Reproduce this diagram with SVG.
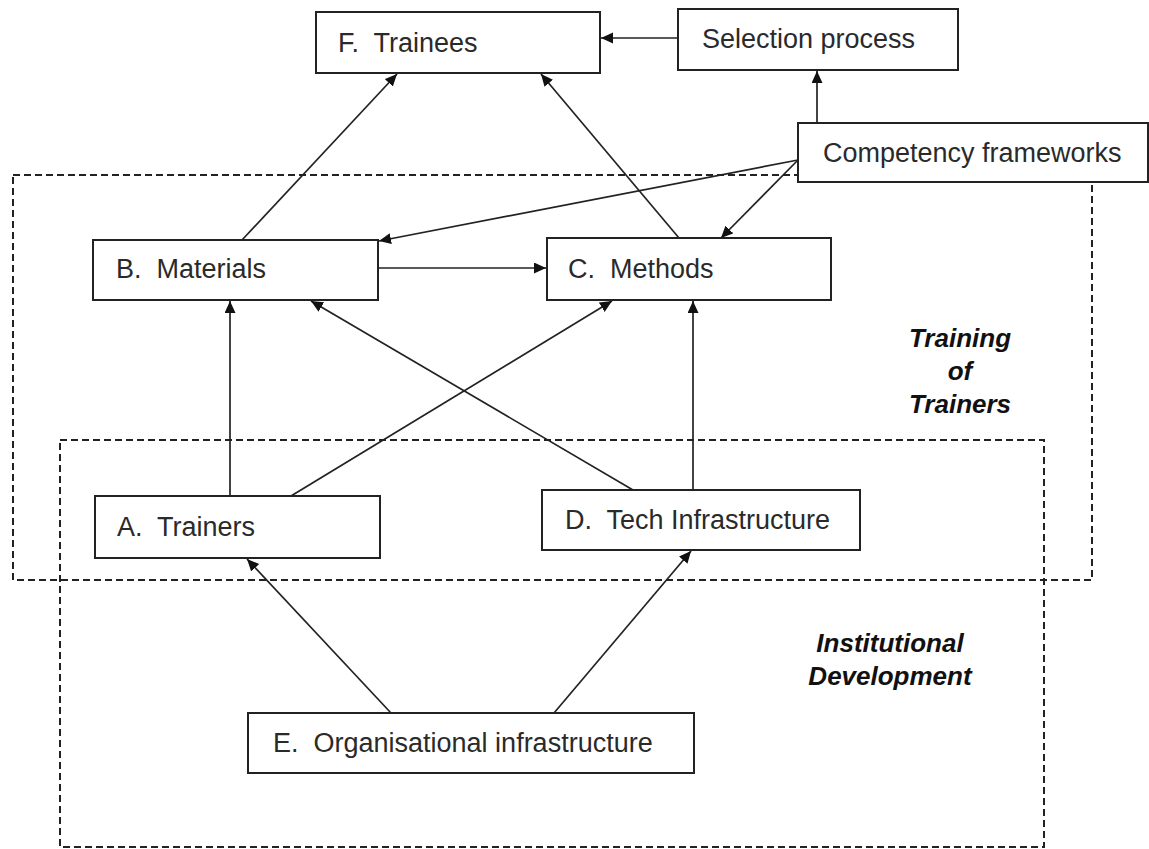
<svg xmlns="http://www.w3.org/2000/svg" width="1149" height="849" viewBox="0 0 1149 849">
<style>
.box{fill:#fff;stroke:#222;stroke-width:2}
.lbl{font-family:"Liberation Sans",Arial,sans-serif;font-size:27px;fill:#2a2a2a;white-space:pre}
.grp{fill:none;stroke:#222;stroke-width:2;stroke-dasharray:7 4}
.cap{font-family:"Liberation Sans",Arial,sans-serif;font-size:26px;font-weight:bold;font-style:italic;fill:#111;text-anchor:middle}
.edge{stroke:#222;stroke-width:1.7;fill:none;marker-end:url(#ah)}
</style>
<defs>
<marker id="ah" markerUnits="userSpaceOnUse" markerWidth="14" markerHeight="12" refX="12" refY="5.5" orient="auto">
<path d="M0,0 L12,5.5 L0,11 z" fill="#111"/>
</marker>
</defs>
<rect width="1149" height="849" fill="#fff"/>
<g id="group-training">
<rect class="grp" x="13" y="175" width="1079" height="405"/>
<text class="cap" x="960" y="347">Training</text>
<text class="cap" x="960" y="380">of</text>
<text class="cap" x="960" y="413">Trainers</text>
</g>
<g id="group-institutional">
<rect class="grp" x="60" y="440" width="984" height="407"/>
<text class="cap" x="890" y="652">Institutional</text>
<text class="cap" x="890" y="685">Development</text>
</g>
<g id="connectors">
<line class="edge" x1="678" y1="38" x2="601" y2="38"/>
<line class="edge" x1="817" y1="123" x2="817" y2="71"/>
<line class="edge" x1="242" y1="240" x2="397" y2="74"/>
<line class="edge" x1="679" y1="238" x2="541" y2="74"/>
<line class="edge" x1="798" y1="160" x2="379" y2="241"/>
<line class="edge" x1="798" y1="160" x2="721" y2="238"/>
<line class="edge" x1="378" y1="268" x2="546" y2="268"/>
<line class="edge" x1="230" y1="496" x2="230" y2="301"/>
<line class="edge" x1="291" y1="496" x2="612" y2="301"/>
<line class="edge" x1="633" y1="490" x2="311" y2="301"/>
<line class="edge" x1="693" y1="490" x2="693" y2="301"/>
<line class="edge" x1="391" y1="713" x2="247" y2="559"/>
<line class="edge" x1="554" y1="713" x2="691" y2="551"/>
</g>
<g id="node-F">
<rect class="box" x="316" y="12" width="284" height="61"/>
<text class="lbl" x="338" y="52" xml:space="preserve">F.  Trainees</text>
</g>
<g id="node-selection">
<rect class="box" x="678" y="9" width="280" height="61"/>
<text class="lbl" x="702" y="48">Selection process</text>
</g>
<g id="node-competency">
<rect class="box" x="798" y="123" width="350" height="59"/>
<text class="lbl" x="823" y="162">Competency frameworks</text>
</g>
<g id="node-B">
<rect class="box" x="93" y="240" width="285" height="60"/>
<text class="lbl" x="116" y="278" xml:space="preserve">B.  Materials</text>
</g>
<g id="node-C">
<rect class="box" x="547" y="238" width="284" height="62"/>
<text class="lbl" x="568" y="278" xml:space="preserve">C.  Methods</text>
</g>
<g id="node-A">
<rect class="box" x="95" y="496" width="285" height="62"/>
<text class="lbl" x="117" y="536" xml:space="preserve">A.  Trainers</text>
</g>
<g id="node-D">
<rect class="box" x="542" y="490" width="318" height="60"/>
<text class="lbl" x="565" y="529" xml:space="preserve">D.  Tech Infrastructure</text>
</g>
<g id="node-E">
<rect class="box" x="248" y="713" width="446" height="60"/>
<text class="lbl" x="273" y="752" xml:space="preserve">E.  Organisational infrastructure</text>
</g>
</svg>
